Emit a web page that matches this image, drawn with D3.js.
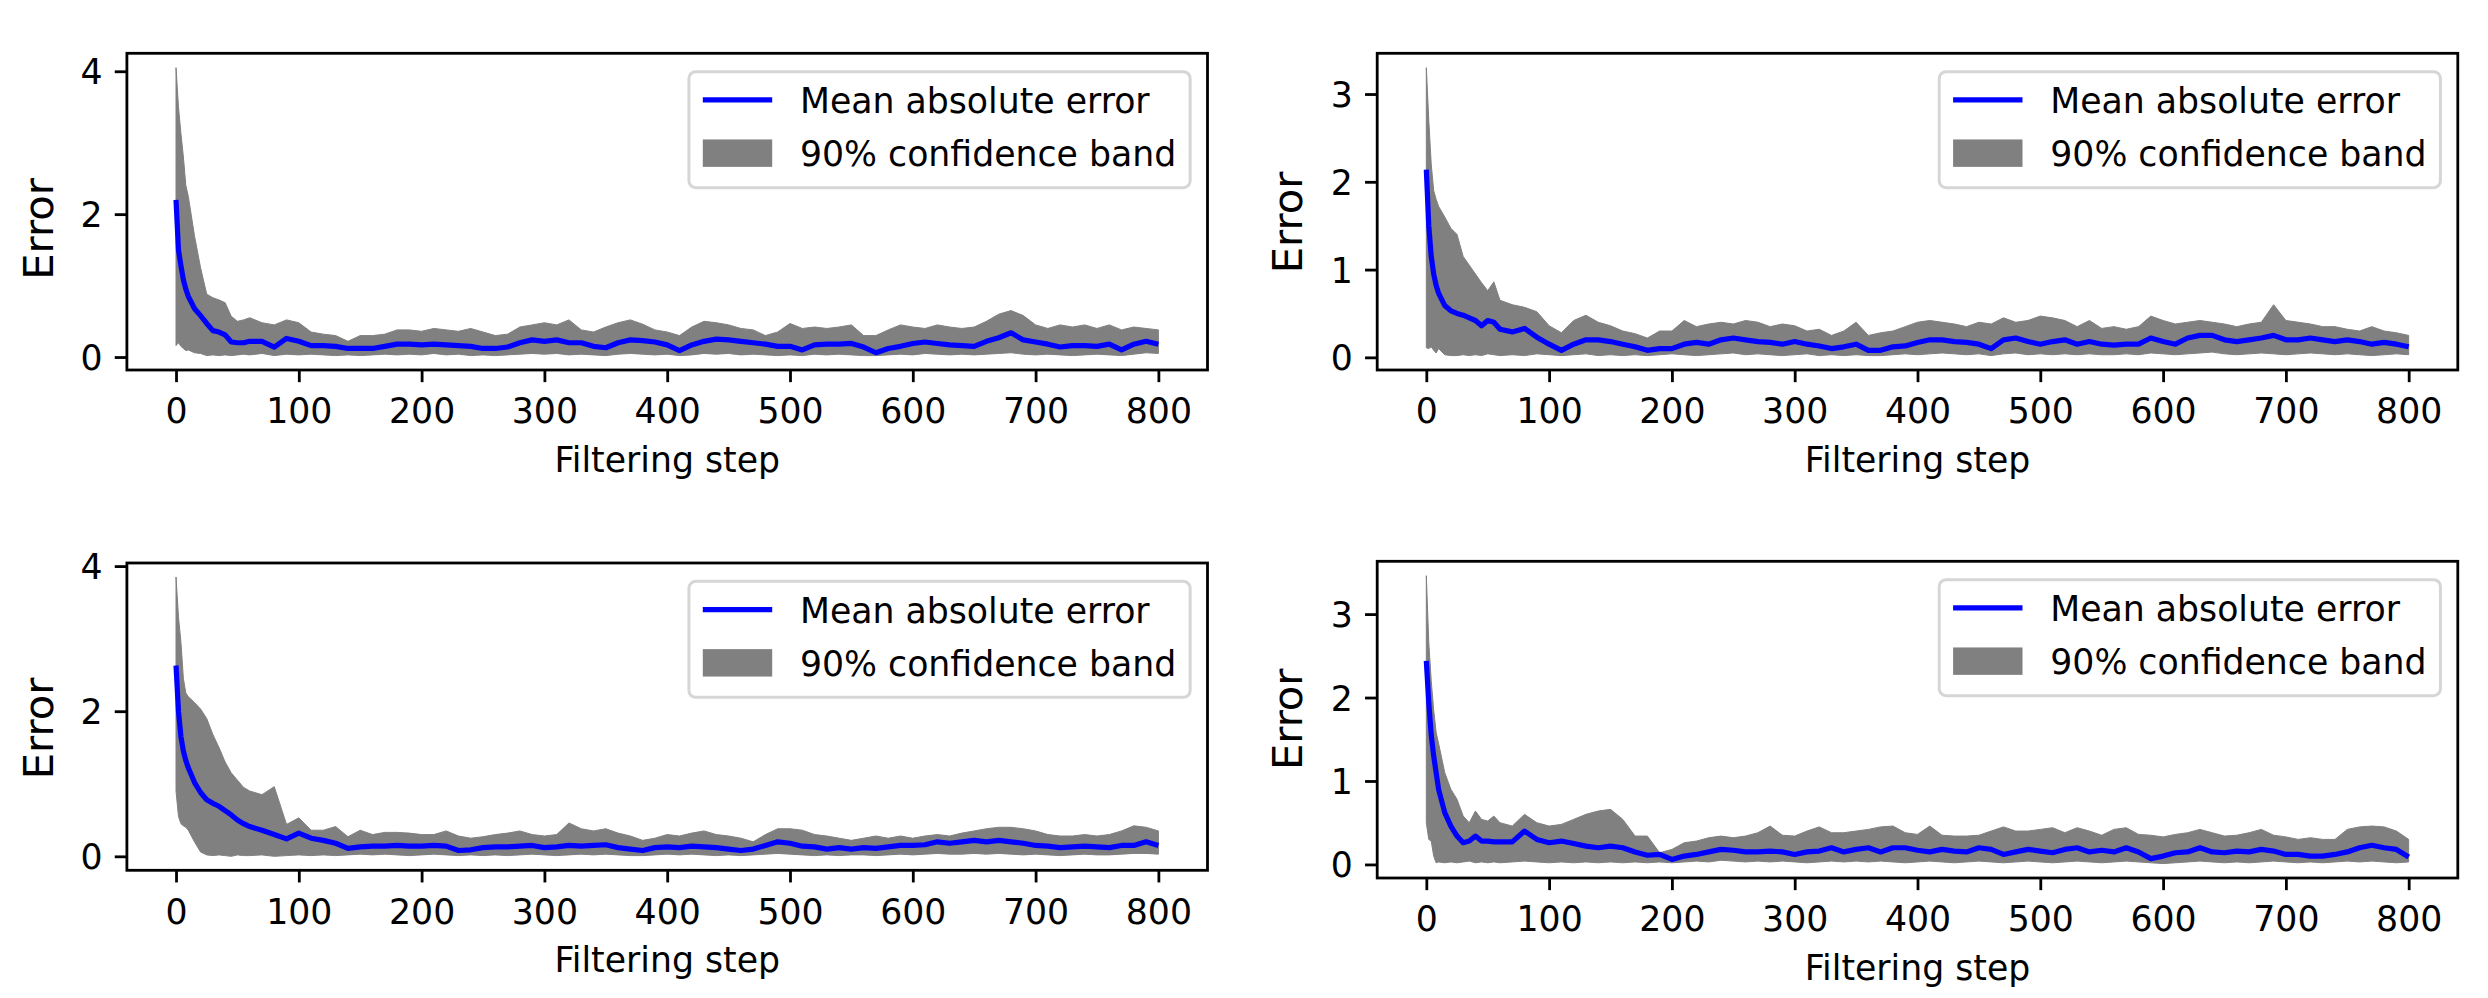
<!DOCTYPE html>
<html><head><meta charset="utf-8">
<script src="https://cdn.jsdelivr.net/npm/d3@7"></script>
<style>body{margin:0;background:#fff}</style>
</head><body>
<svg id="chart" width="2488" height="998"></svg>
<script>
// ---------- data ----------
const steps = [0,2,4,6,8,10,15,20,25,30,35,40,45,50,55,
  60,70,80,90,100,110,120,130,140,150,
  160,170,180,190,200,210,220,230,240,250,
  260,270,280,290,300,310,320,330,340,350,
  360,370,380,390,400,410,420,430,440,450,
  460,470,480,490,500,510,520,530,540,550,
  560,570,580,590,600,610,620,630,640,650,
  660,670,680,690,700,710,720,730,740,750,
  760,770,780,790,800];
const xTicks = [0,100,200,300,400,500,600,700,800];
const yTicksA = [0,2,4];
const yTicksB = [0,1,2,3];
const legendLabels = ["Mean absolute error","90% confidence band"];

// top-left
const tlHigh = [4.05,3.5,3.13,2.8,2.4,2.25,1.7,1.25,0.88,0.83,0.8,0.76,0.57,0.5,0.52,
  0.55,0.48,0.45,0.52,0.48,0.35,0.32,0.3,0.22,0.3,
  0.3,0.32,0.38,0.38,0.36,0.4,0.38,0.36,0.4,0.35,
  0.3,0.32,0.42,0.45,0.48,0.45,0.52,0.38,0.35,0.42,
  0.48,0.52,0.46,0.38,0.35,0.3,0.42,0.5,0.48,0.45,
  0.4,0.38,0.3,0.35,0.47,0.4,0.42,0.4,0.42,0.45,
  0.3,0.3,0.38,0.45,0.42,0.4,0.45,0.42,0.4,0.42,
  0.5,0.6,0.65,0.58,0.45,0.4,0.45,0.42,0.45,0.4,
  0.45,0.38,0.42,0.4,0.38];
const tlMean = [2.2,1.5,1.28,1.08,0.95,0.85,0.68,0.58,0.47,0.37,0.35,0.31,0.21,0.2,0.2,
  0.22,0.22,0.14,0.26,0.22,0.16,0.16,0.15,0.12,0.12,
  0.12,0.15,0.18,0.18,0.17,0.18,0.17,0.16,0.15,0.12,
  0.12,0.14,0.2,0.24,0.22,0.24,0.2,0.2,0.15,0.13,
  0.2,0.24,0.23,0.21,0.17,0.09,0.17,0.22,0.25,0.24,
  0.22,0.2,0.18,0.15,0.15,0.1,0.17,0.18,0.18,0.19,
  0.14,0.06,0.12,0.15,0.19,0.21,0.19,0.17,0.16,0.15,
  0.22,0.27,0.34,0.24,0.21,0.18,0.14,0.16,0.16,0.15,
  0.18,0.1,0.18,0.22,0.18];
const tlLow = [0.16,0.2,0.15,0.12,0.09,0.1,0.06,0.05,0.02,0.03,0.02,0.03,0.02,0.03,0.04,
  0.03,0.05,0.02,0.04,0.03,0.04,0.03,0.02,0.03,0.02,
  0.03,0.04,0.03,0.04,0.03,0.05,0.03,0.04,0.02,0.03,
  0.02,0.03,0.04,0.05,0.04,0.05,0.03,0.04,0.03,0.02,
  0.04,0.05,0.04,0.03,0.04,0.02,0.03,0.05,0.04,0.05,
  0.03,0.04,0.03,0.02,0.03,0.02,0.04,0.03,0.04,0.03,
  0.02,0.02,0.03,0.04,0.03,0.05,0.04,0.03,0.04,0.03,
  0.04,0.05,0.06,0.04,0.03,0.04,0.03,0.02,0.03,0.04,
  0.03,0.02,0.04,0.06,0.05];

// top-right
const trHigh = [3.3,2.7,2.2,1.9,1.8,1.72,1.6,1.47,1.4,1.15,1.05,0.95,0.85,0.76,0.86,
  0.65,0.6,0.57,0.52,0.36,0.28,0.42,0.48,0.4,0.36,
  0.3,0.27,0.22,0.3,0.3,0.42,0.35,0.38,0.4,0.38,
  0.42,0.4,0.35,0.38,0.36,0.3,0.32,0.25,0.3,0.4,
  0.25,0.28,0.3,0.35,0.4,0.42,0.4,0.38,0.35,0.4,
  0.38,0.45,0.4,0.42,0.47,0.45,0.42,0.35,0.42,0.33,
  0.35,0.32,0.35,0.47,0.42,0.38,0.4,0.42,0.4,0.38,
  0.35,0.38,0.4,0.6,0.42,0.4,0.38,0.35,0.35,0.32,
  0.3,0.35,0.3,0.28,0.25];
const trMean = [2.14,1.5,1.15,0.95,0.82,0.73,0.59,0.53,0.5,0.48,0.45,0.42,0.36,0.42,0.4,
  0.32,0.29,0.33,0.23,0.15,0.08,0.15,0.2,0.2,0.18,
  0.15,0.12,0.08,0.1,0.1,0.15,0.17,0.15,0.2,0.22,
  0.2,0.18,0.17,0.15,0.18,0.15,0.13,0.1,0.12,0.15,
  0.08,0.08,0.12,0.13,0.17,0.2,0.2,0.18,0.17,0.15,
  0.1,0.2,0.22,0.18,0.15,0.18,0.2,0.15,0.18,0.15,
  0.14,0.15,0.15,0.22,0.18,0.15,0.22,0.25,0.25,0.2,
  0.18,0.2,0.22,0.25,0.2,0.2,0.22,0.2,0.18,0.2,
  0.18,0.15,0.17,0.15,0.12];
const trLow = [0.11,0.1,0.12,0.08,0.05,0.1,0.03,0.02,0.02,0.03,0.02,0.03,0.02,0.04,0.03,
  0.02,0.03,0.02,0.04,0.03,0.02,0.03,0.04,0.02,0.03,
  0.02,0.03,0.02,0.03,0.04,0.03,0.02,0.03,0.04,0.05,
  0.03,0.04,0.03,0.02,0.03,0.04,0.02,0.03,0.02,0.03,
  0.02,0.02,0.03,0.04,0.03,0.04,0.05,0.04,0.03,0.04,
  0.02,0.04,0.05,0.03,0.04,0.03,0.04,0.03,0.04,0.03,
  0.03,0.04,0.03,0.05,0.04,0.03,0.04,0.05,0.06,0.04,
  0.03,0.04,0.05,0.04,0.03,0.04,0.05,0.04,0.03,0.04,
  0.03,0.02,0.03,0.04,0.03];

// bottom-left
const blHigh = [3.85,3.3,2.95,2.45,2.25,2.2,2.12,2.03,1.9,1.68,1.5,1.3,1.15,1.05,0.95,
  0.9,0.85,0.96,0.44,0.53,0.36,0.36,0.41,0.27,0.36,
  0.3,0.33,0.33,0.32,0.3,0.3,0.35,0.28,0.25,0.27,
  0.3,0.32,0.35,0.3,0.28,0.3,0.46,0.38,0.35,0.38,
  0.32,0.28,0.22,0.25,0.3,0.28,0.32,0.35,0.3,0.28,
  0.25,0.2,0.3,0.38,0.38,0.36,0.3,0.28,0.25,0.22,
  0.25,0.28,0.25,0.28,0.25,0.28,0.3,0.28,0.32,0.35,
  0.38,0.4,0.4,0.38,0.35,0.3,0.28,0.28,0.3,0.28,
  0.3,0.35,0.42,0.4,0.35];
const blMean = [2.63,2.0,1.65,1.45,1.32,1.22,1.02,0.88,0.78,0.73,0.69,0.63,0.57,0.5,0.45,
  0.41,0.36,0.3,0.24,0.32,0.25,0.22,0.18,0.11,0.13,
  0.14,0.14,0.15,0.14,0.14,0.15,0.14,0.08,0.09,0.12,
  0.13,0.13,0.14,0.15,0.12,0.13,0.15,0.14,0.15,0.16,
  0.12,0.1,0.08,0.12,0.13,0.12,0.14,0.13,0.12,0.1,
  0.08,0.1,0.15,0.2,0.18,0.14,0.13,0.1,0.12,0.1,
  0.12,0.11,0.13,0.15,0.15,0.16,0.2,0.18,0.2,0.22,
  0.2,0.22,0.2,0.18,0.15,0.14,0.12,0.13,0.14,0.13,
  0.12,0.15,0.15,0.2,0.15];
const blLow = [0.9,0.55,0.45,0.42,0.4,0.36,0.2,0.06,0.02,0.01,0.02,0.01,0.0,0.02,0.01,
  0.01,0.02,0.0,0.01,0.02,0.01,0.02,0.01,0.02,0.03,
  0.02,0.03,0.02,0.01,0.02,0.03,0.02,0.01,0.02,0.01,
  0.02,0.01,0.02,0.03,0.02,0.01,0.02,0.03,0.02,0.03,
  0.02,0.01,0.01,0.02,0.03,0.02,0.03,0.02,0.01,0.02,
  0.01,0.02,0.03,0.04,0.03,0.02,0.01,0.02,0.01,0.02,
  0.02,0.01,0.02,0.03,0.02,0.03,0.04,0.03,0.03,0.04,
  0.03,0.04,0.03,0.02,0.03,0.02,0.01,0.02,0.03,0.02,
  0.02,0.03,0.04,0.04,0.03];

// bottom-right
const brHigh = [3.46,2.66,2.2,1.85,1.58,1.45,1.1,0.9,0.78,0.58,0.5,0.64,0.54,0.52,0.58,
  0.5,0.46,0.6,0.5,0.46,0.48,0.54,0.6,0.64,0.66,
  0.54,0.34,0.34,0.14,0.18,0.26,0.28,0.32,0.34,0.32,
  0.34,0.38,0.46,0.35,0.34,0.4,0.45,0.38,0.38,0.4,
  0.42,0.45,0.46,0.38,0.36,0.46,0.35,0.34,0.34,0.35,
  0.4,0.45,0.4,0.4,0.42,0.44,0.38,0.44,0.4,0.35,
  0.42,0.44,0.36,0.35,0.33,0.36,0.38,0.42,0.38,0.34,
  0.35,0.38,0.42,0.35,0.33,0.3,0.32,0.3,0.3,0.42,
  0.45,0.46,0.45,0.4,0.3];
const brMean = [2.44,1.94,1.55,1.3,1.1,0.9,0.62,0.46,0.34,0.26,0.28,0.34,0.28,0.28,0.27,
  0.27,0.27,0.4,0.3,0.26,0.28,0.25,0.22,0.2,0.22,
  0.2,0.15,0.11,0.12,0.06,0.1,0.12,0.15,0.18,0.17,
  0.15,0.15,0.16,0.15,0.12,0.15,0.16,0.2,0.15,0.18,
  0.2,0.15,0.2,0.2,0.17,0.15,0.18,0.16,0.15,0.2,
  0.18,0.12,0.15,0.18,0.16,0.14,0.18,0.2,0.15,0.17,
  0.15,0.2,0.15,0.07,0.1,0.14,0.15,0.2,0.15,0.14,
  0.16,0.15,0.18,0.16,0.12,0.12,0.1,0.1,0.12,0.15,
  0.2,0.23,0.2,0.18,0.09];
const brLow = [0.5,0.3,0.28,0.1,0.02,0.03,0.02,0.03,0.02,0.03,0.04,0.02,0.03,0.02,0.03,
  0.02,0.03,0.04,0.03,0.02,0.03,0.02,0.03,0.02,0.03,
  0.02,0.03,0.02,0.03,0.02,0.03,0.04,0.03,0.05,0.04,
  0.03,0.04,0.03,0.04,0.03,0.02,0.03,0.04,0.03,0.04,
  0.03,0.04,0.03,0.02,0.03,0.04,0.03,0.02,0.03,0.04,
  0.03,0.02,0.03,0.04,0.03,0.02,0.03,0.04,0.03,0.02,
  0.03,0.04,0.03,0.02,0.01,0.02,0.03,0.04,0.03,0.02,
  0.03,0.02,0.03,0.04,0.03,0.02,0.03,0.02,0.03,0.04,
  0.03,0.04,0.03,0.02,0.03];

// ---------- layout ----------
const FONT = "DejaVu Sans";
const FS = 34.7;      // 10pt @ 250 dpi
const FS_Y = 41.7;    // 12pt
const LW = 2.8;       // spine / tick width
const panels = [
  {mean: tlMean, lo: tlLow, hi: tlHigh, yTicks: yTicksA, L:126.9, R:1207.5, T:53.3, B:370, ylx:37.5, yly:229},
  {mean: trMean, lo: trLow, hi: trHigh, yTicks: yTicksB, L:1377.2, R:2457.8, T:53.3, B:370, ylx:1287, yly:222.5},
  {mean: blMean, lo: blLow, hi: blHigh, yTicks: yTicksA, L:126.9, R:1207.5, T:563, B:870.3, ylx:37.5, yly:728.5},
  {mean: brMean, lo: brLow, hi: brHigh, yTicks: yTicksB, L:1377.2, R:2457.8, T:561.3, B:878, ylx:1287, yly:719.3}
];

const svg = d3.select("#chart");
svg.append("rect").attr("width",2488).attr("height",998).attr("fill","#fff");

// measure legend text width
const meas = svg.append("text").attr("font-family",FONT).attr("font-size",FS).text(legendLabels[1]);
const textW = Math.max(meas.node().getComputedTextLength(), 0);
meas.remove();

panels.forEach(p => {
  const {L,R,T,B} = p;
  const x = d3.scaleLinear().domain([-40, 840]).range([L, R]);
  const mn = d3.min(p.lo), mx = d3.max(p.hi), r = mx - mn;
  const y = d3.scaleLinear().domain([mn - 0.05*r, mx + 0.05*r]).range([B, T]);
  const rows = steps.map((s,i) => ({s, m: p.mean[i], l: p.lo[i], h: p.hi[i]}));
  const g = svg.append("g");

  g.append("path").datum(rows)
    .attr("d", d3.area().x(d => x(d.s)).y0(d => y(d.l)).y1(d => y(d.h)))
    .attr("fill", "#808080").attr("stroke", "#808080").attr("stroke-width", 1);
  g.append("path").datum(rows)
    .attr("d", d3.line().x(d => x(d.s)).y(d => y(d.m)))
    .attr("fill", "none").attr("stroke", "#0000ff").attr("stroke-width", 5.2)
    .attr("stroke-linejoin", "round");

  // x axis
  const xa = g.append("g").attr("transform", `translate(0,${B})`)
    .call(d3.axisBottom(x).tickValues(xTicks).tickSize(12.15).tickFormat(d3.format("d")));
  xa.select(".domain").remove();
  xa.selectAll("line").attr("stroke", "#000").attr("stroke-width", LW);
  xa.selectAll("text").attr("y", 53.3).attr("dy", null).attr("fill", "#000");
  xa.attr("font-family", FONT).attr("font-size", FS);

  // y axis
  const ya = g.append("g").attr("transform", `translate(${L},0)`)
    .call(d3.axisLeft(y).tickValues(p.yTicks).tickSize(12.15).tickFormat(d3.format("d")));
  ya.select(".domain").remove();
  ya.selectAll("line").attr("stroke", "#000").attr("stroke-width", LW);
  ya.selectAll("text").attr("x", -24.3).attr("dy", "0.36em").attr("fill", "#000");
  ya.attr("font-family", FONT).attr("font-size", FS);

  // frame
  g.append("rect").attr("x", L).attr("y", T).attr("width", R - L).attr("height", B - T)
    .attr("fill", "none").attr("stroke", "#000").attr("stroke-width", LW);

  // axis labels
  g.append("text").attr("x", (L + R) / 2).attr("y", B + 101.7)
    .attr("text-anchor", "middle").attr("font-family", FONT).attr("font-size", FS)
    .text("Filtering step");
  g.append("text").attr("transform", `translate(${p.ylx},${p.yly}) rotate(-90)`)
    .attr("text-anchor", "middle").attr("dy", "0.365em")
    .attr("font-family", FONT).attr("font-size", FS_Y).text("Error");

  // legend
  const pad = 0.4 * FS, hl = 2 * FS, htp = 0.8 * FS;
  const W = pad + hl + htp + textW + pad;
  const bx = R - 0.5 * FS - W, by = T + 0.5 * FS + 1;
  const lg = g.append("g");
  lg.append("rect").attr("x", bx).attr("y", by).attr("width", W).attr("height", 116)
    .attr("rx", 6.9).attr("ry", 6.9)
    .attr("fill", "#fff").attr("fill-opacity", 0.8)
    .attr("stroke", "#cccccc").attr("stroke-opacity", 0.8).attr("stroke-width", 3);
  lg.append("line").attr("x1", bx + pad).attr("x2", bx + pad + hl)
    .attr("y1", by + 28.3).attr("y2", by + 28.3)
    .attr("stroke", "#0000ff").attr("stroke-width", 5.2);
  lg.append("rect").attr("x", bx + pad).attr("y", by + 67.8).attr("width", hl).attr("height", 27.4)
    .attr("fill", "#808080");
  lg.selectAll("text.lab").data(legendLabels).join("text").attr("class", "lab")
    .attr("x", bx + pad + hl + htp).attr("y", (d, i) => by + 41.3 + i * 53.4)
    .attr("font-family", FONT).attr("font-size", FS).attr("fill", "#000").text(d => d);
});
</script>
</body></html>
